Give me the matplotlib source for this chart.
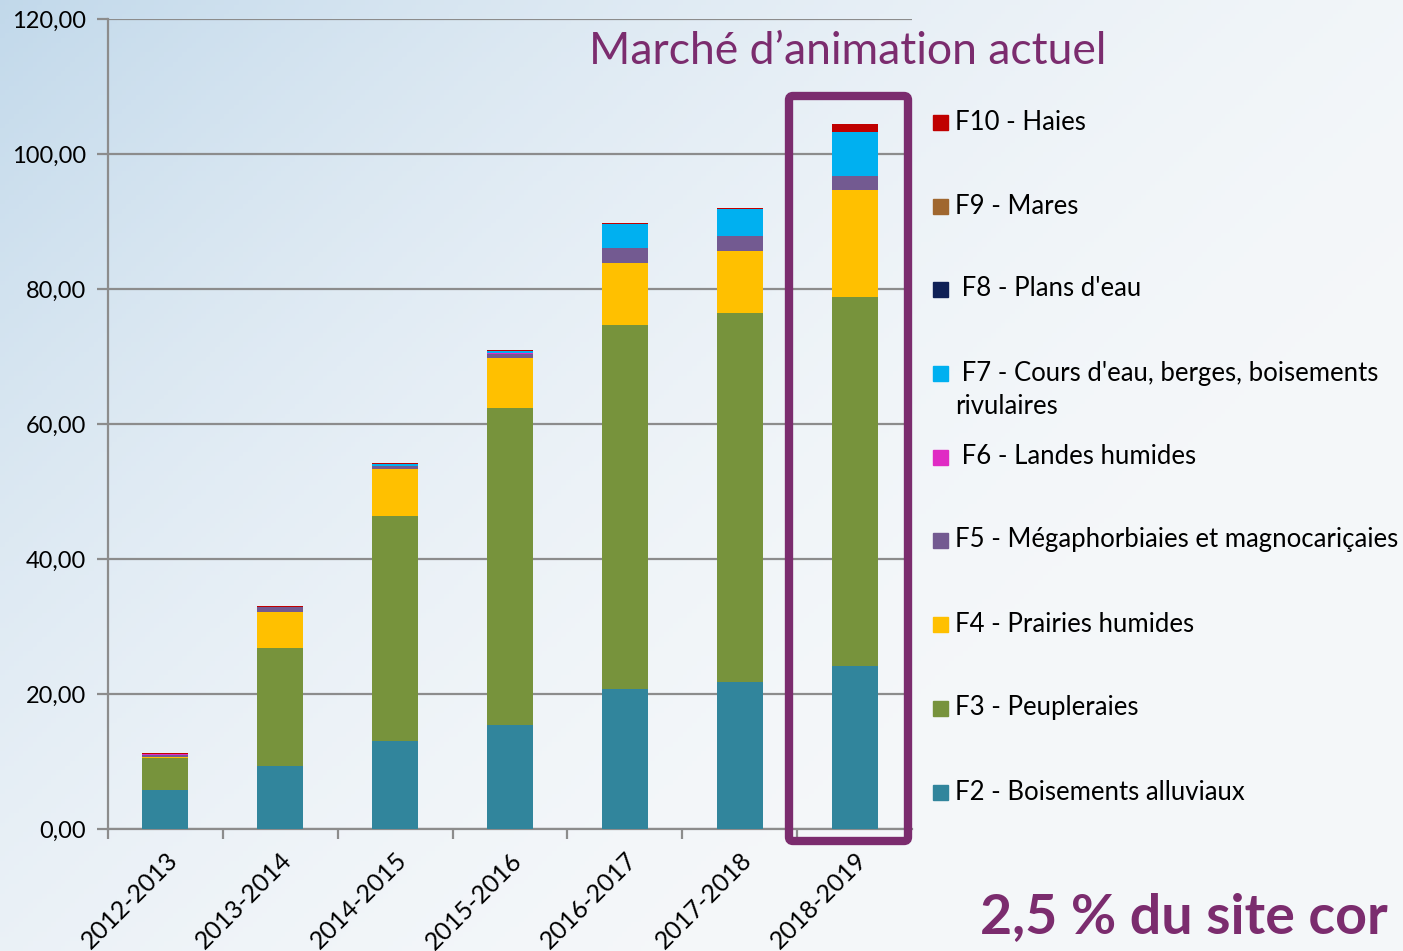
import numpy as np
import matplotlib
matplotlib.use('Agg')
import matplotlib.pyplot as plt
from matplotlib.patches import FancyBboxPatch, Rectangle

plt.rcParams['font.family'] = ['Lato', 'DejaVu Sans']

# data
years = ['2012-2013', '2013-2014', '2014-2015', '2015-2016',
         '2016-2017', '2017-2018', '2018-2019']
f2 = [5.8, 9.35, 13.0, 15.4, 20.7, 21.8, 24.1]
f3 = [4.7, 17.5, 33.4, 46.9, 54.0, 54.6, 54.7]
f4 = [0.1, 5.3, 6.9, 7.5, 9.2, 9.2, 15.8]
f5 = [0.4, 0.7, 0.5, 0.6, 2.2, 2.3, 2.2]
f6 = [0.1, 0.05, 0.05, 0.05, 0.0, 0.0, 0.0]
f7 = [0.0, 0.0, 0.2, 0.3, 3.5, 3.95, 6.4]
f8 = [0.0, 0.0, 0.02, 0.02, 0.0, 0.0, 0.0]
f9 = [0.0, 0.0, 0.0, 0.0, 0.0, 0.0, 0.0]
f10 = [0.1, 0.15, 0.2, 0.2, 0.2, 0.15, 1.2]

series = [f2, f3, f4, f5, f6, f7, f8, f9, f10]
colors = ['#31859C', '#77933C', '#FFC000', '#735A91', '#E02BC4',
          '#00B0F0', '#0F2056', '#A0672F', '#C00000']
labels = ['F2 - Boisements alluviaux', 'F3 - Peupleraies', 'F4 - Prairies humides',
          'F5 - Mégaphorbiaies et magnocariçaies', ' F6 - Landes humides',
          ' F7 - Cours d\'eau, berges, boisements\nrivulaires', ' F8 - Plans d\'eau',
          'F9 - Mares', 'F10 - Haies']
yticks = [0, 20, 40, 60, 80, 100, 120]

W, H = 1403, 951
fig = plt.figure(figsize=(W / 100, H / 100), dpi=100)

# sky-ish background
bg = fig.add_axes([0, 0, 1, 1], zorder=-10)
yy, xx = np.mgrid[0:1:200j, 0:1:300j]
t = np.clip(1 - (0.55 * yy + 0.75 * xx), 0, 1) ** 2
c0 = np.array([0.96, 0.97, 0.98])
c1 = np.array([0.76, 0.85, 0.92])
img = c0[None, None, :] * (1 - t[..., None]) + c1[None, None, :] * t[..., None]
bg.imshow(img, aspect='auto', extent=[0, 1, 0, 1], origin='upper')
bg.axis('off')

ax = fig.add_axes([108 / W, (H - 829) / H, 804 / W, 810 / H])
ax.patch.set_alpha(0)

x = np.arange(len(years))
bottom = np.zeros(len(years))
for vals, col in zip(series, colors):
    ax.bar(x, vals, width=0.4, bottom=bottom, color=col, edgecolor='none', zorder=3)
    bottom += np.array(vals)

gray = '#8C8C8C'
ax.set_xlim(-0.5, 6.5)
ax.set_ylim(0, 120)
ax.set_yticks(yticks)
ax.set_yticklabels(['%d,00' % v for v in yticks], fontsize=17)
ax.yaxis.grid(True, color=gray, linewidth=1.6, zorder=0)
ax.set_axisbelow(True)
ax.set_xticks(x)
ax.set_xticklabels(years, rotation=45, ha='right', rotation_mode='anchor', fontsize=18)
ax.set_xticks(np.arange(-0.5, 6.0, 1.0), minor=True)
ax.tick_params(axis='x', which='major', length=0, pad=14)
ax.tick_params(axis='x', which='minor', length=7, width=1.6, color=gray)
ax.tick_params(axis='y', length=8, width=1.6, color=gray, pad=8)
for s in ['top', 'right']:
    ax.spines[s].set_visible(False)
for s in ['left', 'bottom']:
    ax.spines[s].set_color(gray)
    ax.spines[s].set_linewidth(1.6)

purple = '#7B2C6E'
fig.text(848 / W, 1 - 52 / H, 'Marché d\u2019animation actuel', color=purple,
         fontsize=32, ha='center', va='center')

# highlight box around last bar
box = FancyBboxPatch((789 / 100, (H - 841) / 100), 119 / 100, 745 / 100,
                     boxstyle='round,pad=0,rounding_size=0.04',
                     transform=fig.dpi_scale_trans, fill=False,
                     edgecolor=purple, linewidth=6, zorder=20)
fig.patches.append(box)

# legend, drawn by hand
leg_y = [792, 708, 624, 540, 457, 373, 289, 206, 122]
for yl, col, lab in zip(leg_y, colors, labels):
    fig.patches.append(Rectangle((933 / W, 1 - (yl + 8) / H), 15 / W, 15 / H,
                                 transform=fig.transFigure, color=col))
    if '\n' in lab:
        l1, l2 = lab.split('\n')
        fig.text(955 / W, 1 - yl / H, l1, fontsize=18.5, va='center')
        fig.text(955 / W, 1 - (yl + 34) / H, l2, fontsize=18.5, va='center')
    else:
        fig.text(955 / W, 1 - yl / H, lab, fontsize=18.5, va='center')

fig.text(980 / W, 1 - 917 / H, '2,5 % du site cor', color=purple,
         fontsize=40, fontweight='bold', ha='left', va='center')

fig.savefig('out.png', dpi=100)
